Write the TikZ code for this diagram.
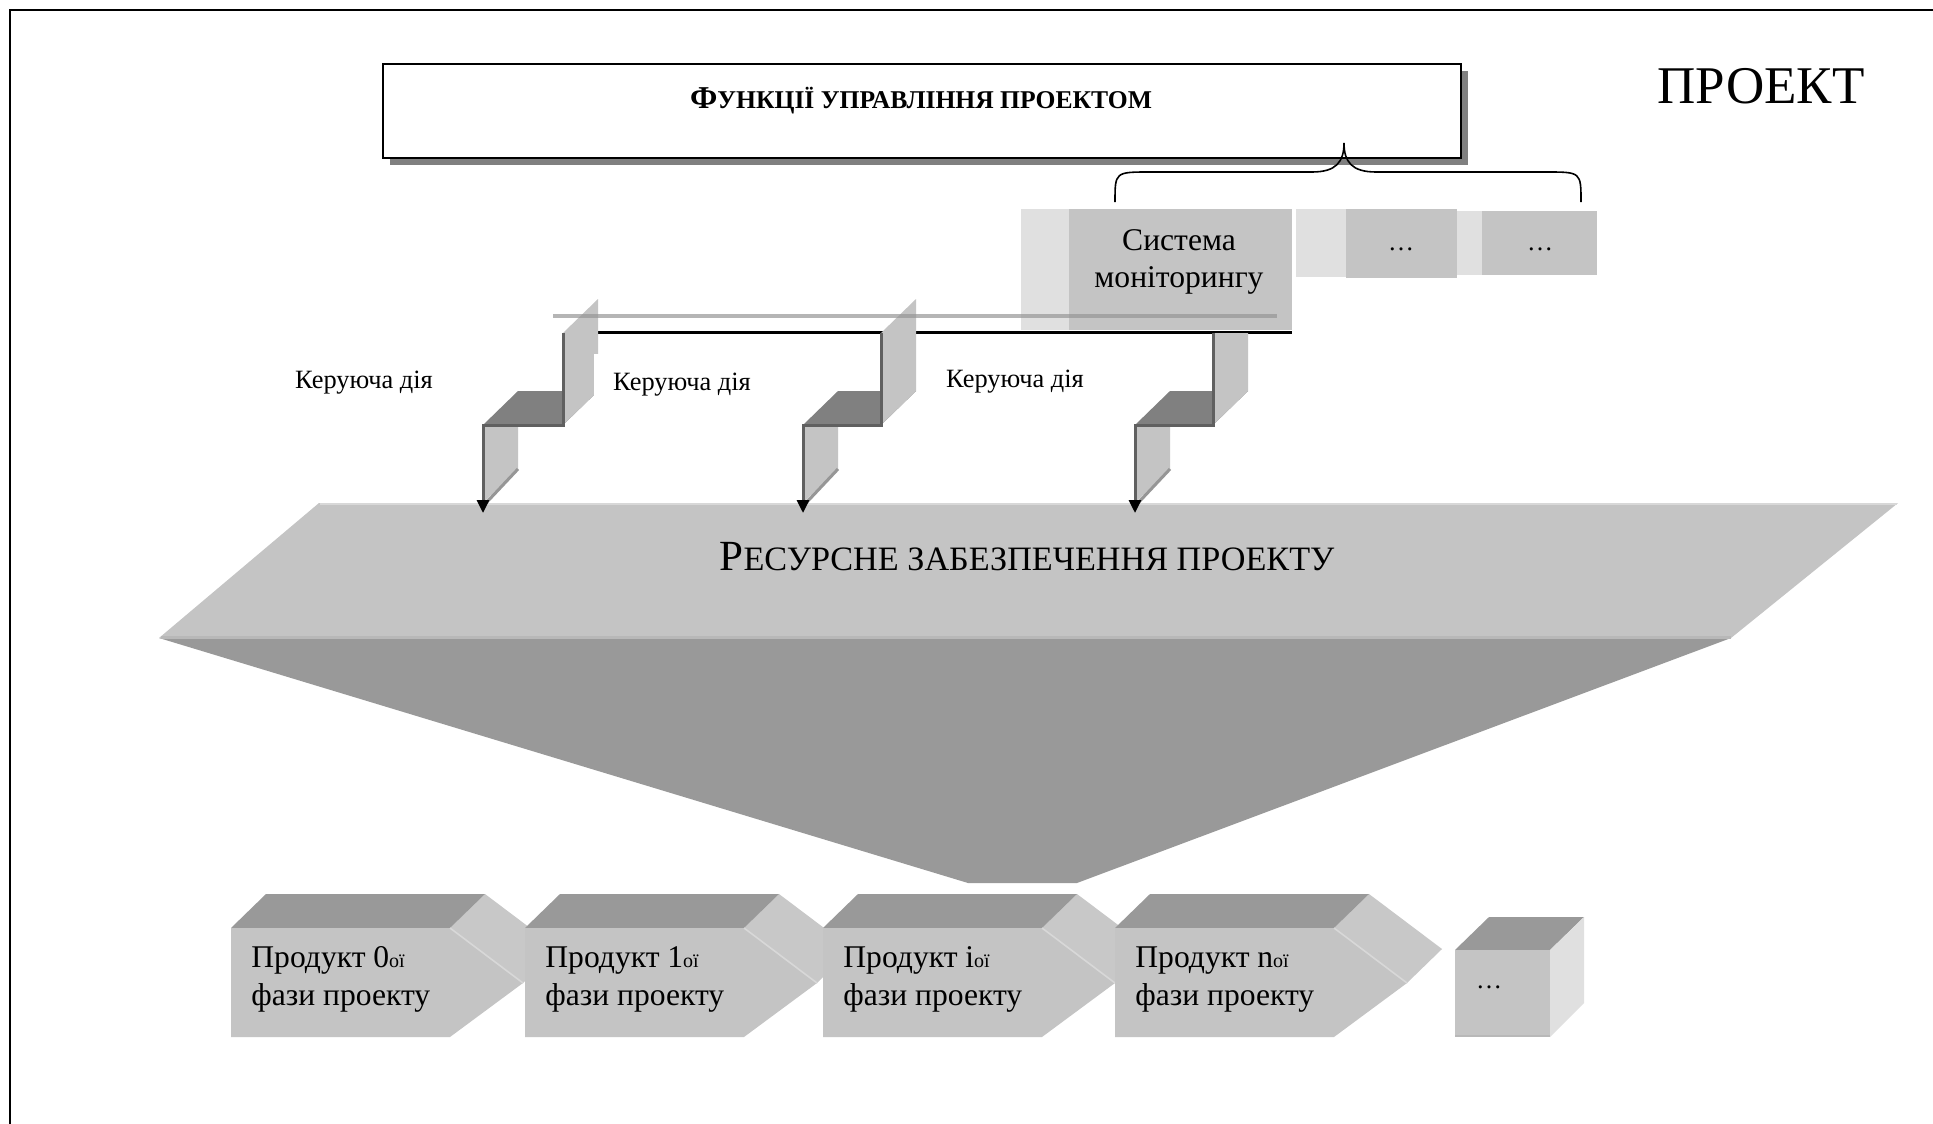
\documentclass[tikz,border=0pt]{standalone}
\usepackage{fontspec}
\setmainfont{Liberation Serif}
\usetikzlibrary{arrows.meta}
\definecolor{cface}{RGB}{196,196,196}
\definecolor{cside}{RGB}{200,200,200}
\definecolor{ctop}{RGB}{153,153,153}
\definecolor{cpale}{RGB}{224,224,224}
\definecolor{cdark}{RGB}{128,128,128}
\definecolor{cedge}{RGB}{96,96,96}
\definecolor{cdiag}{RGB}{150,150,150}
\definecolor{cshadow}{RGB}{128,128,128}
\definecolor{cline}{RGB}{150,150,150}
\definecolor{cband}{RGB}{184,184,184}
\definecolor{clight}{RGB}{216,216,216}
\newcommand{\StepArrow}[6]{% x1, x2, ytop, ymid, ybot, face top-right y
  \fill[cface] (#2,#4) -- (#2,#5) -- ({#2+35},{#5-34}) -- ({#2+35},#4) -- cycle;
  \draw[cdiag, line width=1.5pt] ({#2+35},{#5-34}) -- ({#2+3},#5);
  \fill[cdark] (#2,#4) -- (#1,#4) -- ({#1+35},{#4-34}) -- ({#2+35},{#4-34}) -- cycle;
  \fill[cface] (#1,#3) -- (#1,#4) -- ({#1+35},{#4-34}) -- ({#1+35},#6) -- cycle;
  \draw[cedge, line width=1.5pt, line join=miter,
        -{Triangle[width=6pt,length=6.5pt,color=black,fill=black]}]
        (#1,#3) -- (#1,#4) -- (#2,#4) -- (#2,513);
}
\newcommand{\ProdShape}[1]{% x of front left
  \fill[cside] ({#1+219},928) -- ({#1+254},894) -- ({#1+327},949) -- ({#1+292},983) -- cycle;
  \fill[ctop] (#1,928) -- ({#1+219},928) -- ({#1+254},894) -- ({#1+35},894) -- cycle;
  \fill[cface] (#1,928) -- ({#1+219},928) -- ({#1+292},983) -- ({#1+219},1037) -- (#1,1037) -- cycle;
  \draw[clight, line width=0.8pt] ({#1+219},928) -- ({#1+292},983);
}
\begin{document}
\begin{tikzpicture}[x=0.5pt,y=-0.5pt,
  lbl/.style={font=\fontsize{13.2}{15}\selectfont, fill=white, inner sep=9.5pt, anchor=base},
  prodtxt/.style={font=\fontsize{15.8}{19}\selectfont, align=left, anchor=north west, inner sep=0pt},
  dots/.style={font=\fontsize{13}{15}\selectfont, inner sep=0pt, anchor=base}]
\useasboundingbox (0,0) rectangle (1933,1124);
\fill[white] (0,0) rectangle (1933,1124);
% outer frame
\draw[line width=1.25pt] (10,1124) -- (10,10) -- (1933,10);

% top box with shadow
\fill[cshadow] (390,71) rectangle (1468,165);
\node[draw, line width=1pt, fill=white, minimum width=539pt, minimum height=47pt, inner sep=0pt] (func) at (922,111) {};
\node[anchor=base, inner sep=0pt] (functxt) at (921,108)
  {\bfseries\fontsize{15.9}{18}\selectfont Ф\fontsize{12.8}{15}\selectfont УНКЦІЇ УПРАВЛІННЯ ПРОЕКТОМ};

% title
\node[anchor=base, inner sep=0pt, font=\fontsize{26.5}{30}\selectfont] (proj) at (1761,103) {ПРОЕКТ};

% brace
\coordinate (btip) at (1344,143);
\draw[line width=0.8pt] (1115,202) .. controls (1115,172) .. (1150,172) -- (1312,172)
   .. controls (1336,172) and (1344,162) .. (btip)
   .. controls (1344,162) and (1352,172) .. (1376,172) -- (1546,172)
   .. controls (1581,172) .. (1581,202);

% resource shape
\fill[cface] (319,503) -- (1898,503) -- (1731,638) -- (159,638) -- cycle;
\fill[ctop] (159,638) -- (1731,638) -- (1077,883) -- (968,883) -- cycle;
\draw[cband, line width=1.5pt] (161,637) -- (1731,637);
\draw[clight, line width=1pt] (320,504) -- (1897,504);
\node[anchor=base, inner sep=0pt] (res) at (1027,570)
  {\fontsize{21.5}{24}\selectfont Р\fontsize{17.1}{20}\selectfont ЕСУРСНЕ ЗАБЕЗПЕЧЕННЯ ПРОЕКТУ};

% black control line
\draw[line width=1.5pt] (566,332) -- (1292,332);

% step arrows
\StepArrow{563}{483}{333}{425}{503}{299}
\StepArrow{881}{803}{333}{425}{503}{299}
\StepArrow{1213}{1135}{333}{425}{503}{333}

% labels
\node[lbl] (k0) at (364,388) {Керуюча дія};
\node[lbl] (k1) at (682,390) {Керуюча дія};
\node[lbl] (k2) at (1015,387) {Керуюча дія};

% monitoring block
\fill[cpale] (1021,209) rectangle (1069,330);
\fill[cface] (1069,209) rectangle (1292,330);
\node[font=\fontsize{15.8}{18.5}\selectfont, align=center, anchor=north, inner sep=0pt] (mon) at (1179,229) {Система\\моніторингу};
\fill[cpale] (1296,209) rectangle (1346,277);
\fill[cface] (1346,209) rectangle (1457,278);
\fill[cpale] (1457,211) rectangle (1482,275);
\fill[cface] (1482,211) rectangle (1597,275);
\node[dots] (d1) at (1401,250) {…};
\node[dots] (d2) at (1540,250) {…};

% gray line over
\draw[cline, opacity=0.7, line width=1.6pt] (553,316) -- (1277,316);

% product shapes
\ProdShape{231}
\ProdShape{525}
\ProdShape{823}
\ProdShape{1115}
\node[prodtxt] (p0) at (251,946) {Продукт 0{\fontsize{10}{12}\selectfont ої}\\фази проекту};
\node[prodtxt] (p1) at (545,946) {Продукт 1{\fontsize{10}{12}\selectfont ої}\\фази проекту};
\node[prodtxt] (p2) at (843,946) {Продукт і{\fontsize{10}{12}\selectfont ої}\\фази проекту};
\node[prodtxt] (p3) at (1135,946) {Продукт n{\fontsize{10}{12}\selectfont ої}\\фази проекту};

% cube
\fill[ctop] (1455,950) -- (1550,950) -- (1584,917) -- (1489,917) -- cycle;
\fill[cpale] (1550,950) -- (1584,917) -- (1584,1003) -- (1550,1037) -- cycle;
\fill[cface] (1455,950) rectangle (1550,1037);
\draw[cband, line width=1pt] (1455,1036) -- (1550,1036);
\node[dots] (d3) at (1489,988) {…};
\end{tikzpicture}
\end{document}
